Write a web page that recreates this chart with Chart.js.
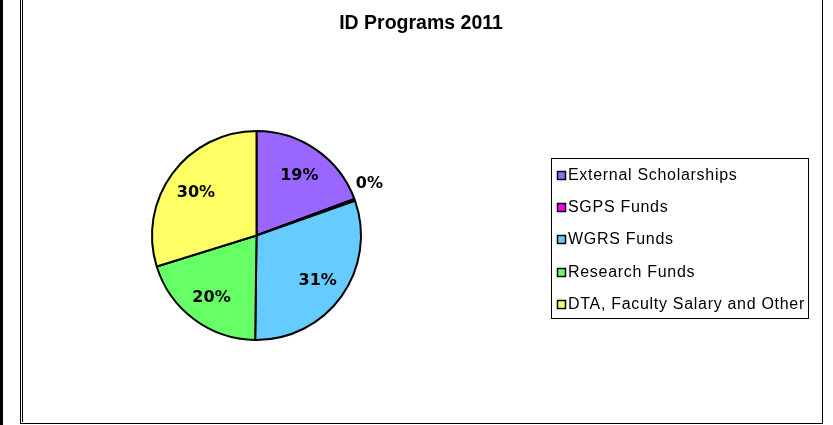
<!DOCTYPE html>
<html>
<head>
<meta charset="utf-8">
<script src="https://cdn.jsdelivr.net/npm/chart.js@4/dist/chart.umd.min.js"></script>
<style>
  body { margin: 0; background: #fff; }
  #wrap { position: relative; width: 833px; height: 425px; overflow: hidden; }
  #chart { position: absolute; left: 0; top: 0; }
  .ln { position: absolute; background: #000; }
</style>
</head>
<body>
<div id="wrap">
  <canvas id="chart" width="833" height="425"></canvas>
  <div class="ln" style="left:0;top:0;width:3px;height:425px"></div>
  <div class="ln" style="left:20px;top:0;width:1px;height:424px"></div>
  <div class="ln" style="left:22px;top:0;width:1px;height:422px"></div>
  <div class="ln" style="left:20px;top:423px;width:803px;height:1px"></div>
  <div class="ln" style="left:822px;top:0;width:1px;height:424px"></div>
</div>
<script>
const title = "ID Programs 2011";
const categories = ["External Scholarships", "SGPS Funds", "WGRS Funds", "Research Funds", "DTA, Faculty Salary and Other"];
const shares = [19.3, 0.3, 30.6, 20.0, 29.8];
const colors = ["#9966FF", "#FF00FF", "#66CCFF", "#66FF66", "#FFFF66"];

// title centred on the whole frame, not on the pie area
const pageTitle = {
  id: "pageTitle",
  afterDraw(chart) {
    const ctx = chart.ctx;
    ctx.save();
    ctx.font = "bold 19.5px 'Liberation Sans'";
    ctx.fillStyle = "#000";
    ctx.textAlign = "center";
    ctx.textBaseline = "middle";
    ctx.fillText(title, 421, 24);
    ctx.restore();
  }
};

// percent labels on the slices, small ones pushed outside
const sliceLabels = {
  id: "sliceLabels",
  afterDatasetsDraw(chart) {
    const ctx = chart.ctx;
    const total = shares.reduce((a, b) => a + b, 0);
    ctx.save();
    ctx.font = "bold 16px 'DejaVu Sans'";
    ctx.fillStyle = "#000";
    ctx.textAlign = "center";
    ctx.textBaseline = "middle";
    chart.getDatasetMeta(0).data.forEach((arc, i) => {
      const pct = Math.round(shares[i] / total * 100);
      const mid = (arc.startAngle + arc.endAngle) / 2;
      const outside = pct < 2;
      const r = arc.outerRadius * (outside ? 1.15 : 0.72);
      const dy = outside ? -11 : 2;
      ctx.fillText(pct + "%", arc.x + Math.cos(mid) * r, arc.y + Math.sin(mid) * r + dy);
    });
    ctx.restore();
  }
};

// boxed legend on the right
const boxLegend = {
  id: "boxLegend",
  afterDraw(chart) {
    const ctx = chart.ctx;
    ctx.save();
    ctx.strokeStyle = "#000";
    ctx.lineWidth = 1;
    ctx.strokeRect(551.5, 158.5, 257, 160);
    ctx.font = "16px 'Liberation Sans'";
    ctx.letterSpacing = "0.7px";
    ctx.textBaseline = "middle";
    ctx.textAlign = "left";
    categories.forEach((name, i) => {
      const y = Math.round(175 + i * 32.2);
      ctx.fillStyle = colors[i];
      ctx.fillRect(557, y - 4, 9, 9);
      ctx.lineWidth = 1.5;
      ctx.strokeRect(557.5, y - 3.5, 8, 8);
      ctx.fillStyle = "#000";
      ctx.fillText(name, 568, y + 1);
    });
    ctx.restore();
  }
};

new Chart(document.getElementById("chart"), {
  type: "pie",
  data: {
    labels: categories,
    datasets: [{
      data: shares,
      backgroundColor: colors,
      borderColor: "#000",
      borderWidth: 2
    }]
  },
  options: {
    responsive: false,
    animation: false,
    layout: { padding: { left: 151, right: 471, top: 130, bottom: 84 } },
    plugins: {
      legend: { display: false },
      tooltip: { enabled: false },
      title: { display: false }
    }
  },
  plugins: [pageTitle, sliceLabels, boxLegend]
});
</script>
</body>
</html>
